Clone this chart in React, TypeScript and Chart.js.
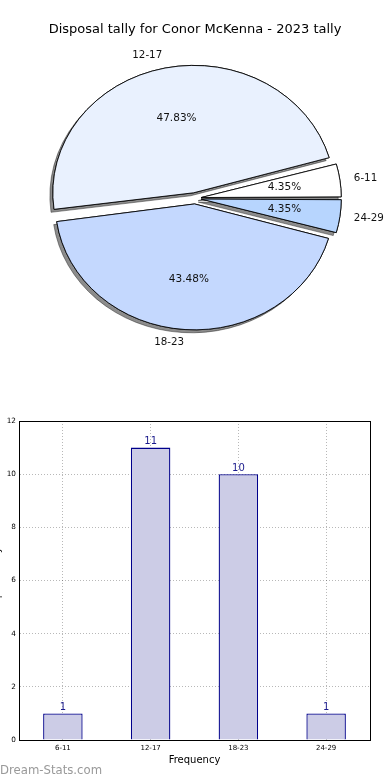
import { useEffect, useRef } from "react";
import { Chart, registerables } from "chart.js";

Chart.register(...registerables);

const TITLE = "Disposal tally for Conor McKenna - 2023 tally";
const CATEGORIES = ["6-11", "12-17", "18-23", "24-29"];
const COUNTS = [1, 11, 10, 1];
const PIE_COLORS = ["#ffffff", "#e9f1fe", "#c4d8fe", "#b7d5fe"];
const Y_MAX = 12;
const Y_STEP = 2;
const X_TITLE = "Frequency";
const Y_TITLE = "Disposal tally";
const WATERMARK = "Dream-Stats.com";

const FONT = "'DejaVu Sans', sans-serif";
const SY = 0.904; // vertical squash of the pie (non-equal aspect)
const EXPLODE = 6.25; // px

const pieEllipsePlugin = {
  id: "pieEllipse",
  beforeDatasetsDraw(chart: any) {
    const meta = chart.getDatasetMeta(0);
    const a0 = meta.data[0];
    const ctx = chart.ctx;
    ctx.save();
    ctx.translate(a0.x, a0.y);
    ctx.scale(1, SY);
    ctx.translate(-a0.x, -a0.y);
    ctx.save();
    ctx.shadowColor = "rgba(0,0,0,0.45)";
    ctx.shadowOffsetX = -3;
    ctx.shadowOffsetY = 3;
    ctx.shadowBlur = 0;
    meta.data.forEach((el: any) => el.draw(ctx));
    ctx.restore();
  },
  afterDatasetsDraw(chart: any) {
    const ctx = chart.ctx;
    ctx.restore();
    const meta = chart.getDatasetMeta(0);
    const values: number[] = chart.data.datasets[0].data;
    const total = values.reduce((a, b) => a + b, 0);
    ctx.save();
    ctx.fillStyle = "#111";
    ctx.textBaseline = "middle";
    meta.data.forEach((el: any, i: number) => {
      const p = el.getProps(["x", "y", "startAngle", "endAngle", "outerRadius", "circumference"], true);
      const off = (el.options.offset || 0) / 4;
      const fix = 1 - Math.sin(Math.min(Math.PI, p.circumference || 0));
      const r = p.outerRadius + off * fix;
      const mid = (p.startAngle + p.endAngle) / 2;
      const cx = p.x + Math.cos(mid) * off;
      const cy = p.y + Math.sin(mid) * off * SY;
      const lx = cx + Math.cos(mid) * r * 1.1;
      const ly = cy + Math.sin(mid) * r * 1.1 * SY;
      ctx.font = `10.3px ${FONT}`;
      ctx.textAlign = Math.cos(mid) < 0 ? "right" : "left";
      ctx.fillText(chart.data.labels[i], lx, ly);
      const px = cx + Math.cos(mid) * r * 0.6;
      const py = cy + Math.sin(mid) * r * 0.6 * SY;
      ctx.textAlign = "center";
      ctx.font = `10.5px ${FONT}`;
      ctx.fillText(((values[i] / total) * 100).toFixed(2) + "%", px, py);
    });
    ctx.restore();
  },
};

const barExtrasPlugin = {
  id: "barExtras",
  afterDatasetsDraw(chart: any) {
    const ctx = chart.ctx;
    const meta = chart.getDatasetMeta(0);
    const values: number[] = chart.data.datasets[0].data;
    ctx.save();
    ctx.fillStyle = "#1a1a8c";
    ctx.font = `10px ${FONT}`;
    ctx.textAlign = "center";
    ctx.textBaseline = "bottom";
    meta.data.forEach((el: any, i: number) => {
      ctx.fillText(String(values[i]), el.x, el.y - 1);
    });
    ctx.restore();
  },
  afterDraw(chart: any) {
    const ctx = chart.ctx;
    const a = chart.chartArea;
    ctx.save();
    ctx.strokeStyle = "#000";
    ctx.lineWidth = 1;
    ctx.strokeRect(Math.round(a.left) + 0.5, Math.round(a.top) + 0.5, Math.round(a.right - a.left), Math.round(a.bottom - a.top));
    ctx.fillStyle = "rgba(128,128,128,0.8)";
    ctx.font = `11.7px ${FONT}`;
    ctx.textAlign = "left";
    ctx.textBaseline = "alphabetic";
    ctx.fillText(WATERMARK, 0, 374);
    ctx.restore();
  },
};

export default function App() {
  const pieRef = useRef<HTMLCanvasElement>(null);
  const barRef = useRef<HTMLCanvasElement>(null);

  useEffect(() => {
    const pie = new Chart(pieRef.current!, {
      type: "pie",
      data: {
        labels: [...CATEGORIES].reverse(),
        datasets: [
          {
            data: [...COUNTS].reverse(),
            backgroundColor: [...PIE_COLORS].reverse(),
            borderColor: "#000",
            borderWidth: 0.9,
            offset: EXPLODE * 4,
            radius: 135.5,
          } as any,
        ],
      },
      options: {
        animation: false,
        responsive: false,
        rotation: 90,
        layout: { padding: { top: 0, bottom: 41, left: 0, right: 0 } },
        plugins: {
          legend: { display: false },
          tooltip: { enabled: false },
          title: {
            display: true,
            text: TITLE,
            color: "#000",
            font: { family: FONT, size: 13, weight: "normal" },
            padding: { top: 22, bottom: 0 },
          },
        },
      },
      plugins: [pieEllipsePlugin],
    });

    const gridColor = "rgba(0,0,0,0.28)";
    const bar = new Chart(barRef.current!, {
      type: "bar",
      data: {
        labels: CATEGORIES,
        datasets: [
          {
            data: COUNTS,
            backgroundColor: "#ccccE6",
            borderColor: "#00008b",
            borderWidth: 1.3,
            barPercentage: 0.45,
            categoryPercentage: 1,
          },
        ],
      },
      options: {
        animation: false,
        responsive: false,
        layout: { padding: { top: 21, right: 20, bottom: 14, left: 0 } },
        plugins: { legend: { display: false }, tooltip: { enabled: false } },
        scales: {
          x: {
            z: 1,
            grid: { offset: false, color: gridColor, lineWidth: 1, drawTicks: false },
            border: { display: true, color: "#000", width: 1, dash: [1, 2] },
            ticks: { color: "#000", font: { family: FONT, size: 7 }, padding: 4 },
            title: {
              display: true,
              text: X_TITLE,
              color: "#000",
              font: { family: FONT, size: 10 },
              padding: { top: 0, bottom: 0 },
            },
            afterFit: (s: any) => {
              s.height = 26;
            },
          },
          y: {
            z: 1,
            min: 0,
            max: Y_MAX,
            grid: { color: gridColor, lineWidth: 1, drawTicks: false },
            border: { display: true, color: "#000", width: 1, dash: [1, 2] },
            ticks: { stepSize: Y_STEP, color: "#000", font: { family: FONT, size: 7.3 }, padding: 3 },
            title: {
              display: true,
              text: Y_TITLE,
              color: "#000",
              font: { family: FONT, size: 10 },
              padding: { top: -9, bottom: 0 },
            },
            afterFit: (s: any) => {
              s.width = 19;
            },
          },
        } as any,
      },
      plugins: [barExtrasPlugin],
    });

    return () => {
      pie.destroy();
      bar.destroy();
    };
  }, []);

  return (
    <div style={{ position: "absolute", left: 0, top: 0, width: 390, height: 780, background: "#fff" }}>
      <canvas ref={pieRef} width={390} height={400} style={{ position: "absolute", left: 0, top: 0, width: 390, height: 400 }} />
      <canvas ref={barRef} width={390} height={380} style={{ position: "absolute", left: 0, top: 400, width: 390, height: 380 }} />
    </div>
  );
}
